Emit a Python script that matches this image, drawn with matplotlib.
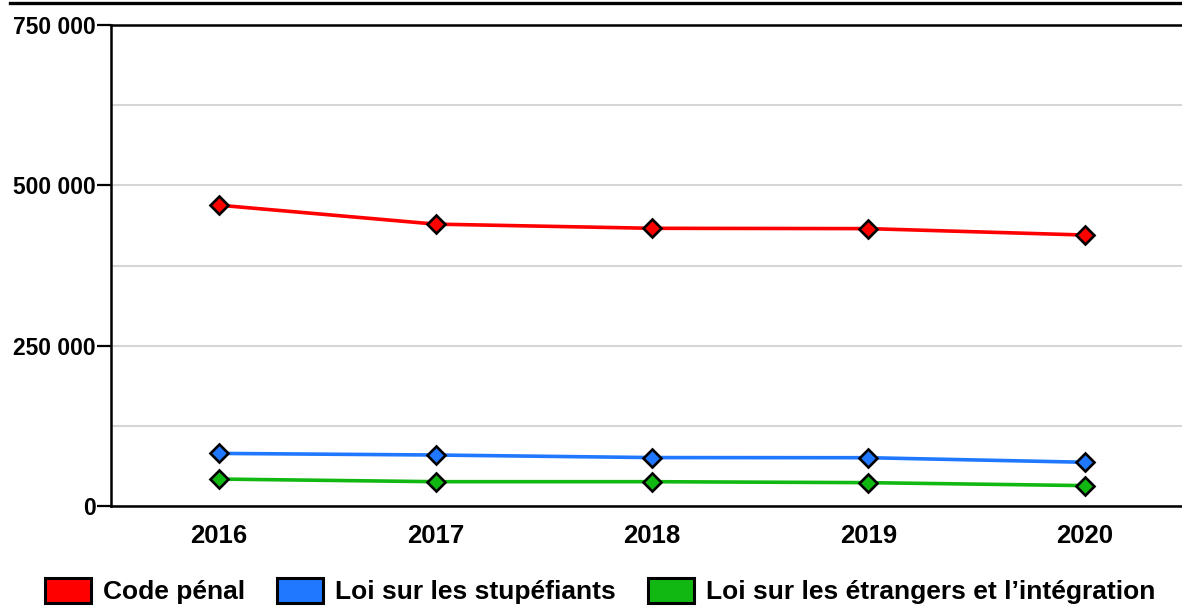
import matplotlib
matplotlib.use("Agg")
import matplotlib.pyplot as plt
from matplotlib.lines import Line2D
from matplotlib.patches import Patch
from matplotlib.ticker import FuncFormatter, MultipleLocator

plt.rcParams['font.family'] = ['Liberation Sans', 'DejaVu Sans']
plt.rcParams['font.weight'] = 'bold'

years = ["2016", "2017", "2018", "2019", "2020"]
code_penal = [469000, 439500, 433000, 432500, 422500]
stupefiants = [82000, 79500, 75500, 75300, 68200]
etrangers = [42000, 37900, 37900, 36400, 31800]

series = [
    ("Code pénal", code_penal, "#ff0000"),
    ("Loi sur les stupéfiants", stupefiants, "#1f78ff"),
    ("Loi sur les étrangers et l’intégration", etrangers, "#12b812"),
]

fig = plt.figure(figsize=(11.82, 6.09), dpi=100)
ax = fig.add_axes([111 / 1182, 1 - 506 / 609, 1 - 111 / 1182, (506 - 25) / 609])

x = list(range(len(years)))
for label, vals, color in series:
    ax.plot(x, vals, color=color, lw=2.6, marker='D', markersize=8.8,
            markerfacecolor=color, markeredgecolor='black', markeredgewidth=1.9,
            zorder=3, solid_capstyle='round')

ax.set_ylim(0, 750000)
ax.set_xlim(-0.5, 4.45)
ax.yaxis.set_major_locator(MultipleLocator(250000))
ax.yaxis.set_minor_locator(MultipleLocator(125000))
ax.yaxis.set_major_formatter(FuncFormatter(lambda v, p: f"{int(v):,}".replace(",", " ")))
ax.grid(axis='y', which='both', color='#d6d6d6', lw=1.5, zorder=0)
ax.set_axisbelow(True)

ax.set_xticks(x)
ax.set_xticklabels(years, fontsize=18.5, fontweight='bold')
ax.tick_params(axis='x', length=0, pad=13)
ax.tick_params(axis='y', which='major', length=10, width=1.6, pad=1,
               labelsize=16.5, colors='black')
ax.tick_params(axis='y', which='minor', length=0)
for lab in ax.get_yticklabels():
    lab.set_fontweight('bold')

for side in ('left', 'bottom', 'top'):
    ax.spines[side].set_linewidth(1.8)
    ax.spines[side].set_color('black')
ax.spines['right'].set_visible(False)

# thin rule across the top of the figure
fig.add_artist(Line2D([10 / 1182, 1.0], [1 - 2.5 / 609, 1 - 2.5 / 609],
                      color='black', lw=2.4, transform=fig.transFigure))

handles = [Patch(facecolor=c, edgecolor='black', linewidth=2.2, label=l)
           for l, _, c in series]
fig.legend(handles=handles, loc='center', bbox_to_anchor=(600 / 1182, 1 - 591 / 609),
           ncol=3, frameon=False, prop={'size': 19, 'weight': 'bold'},
           handlelength=1.75, handleheight=1.1, handletextpad=0.45,
           columnspacing=1.22, borderaxespad=0, borderpad=0)

fig.savefig("out.png", dpi=100)
